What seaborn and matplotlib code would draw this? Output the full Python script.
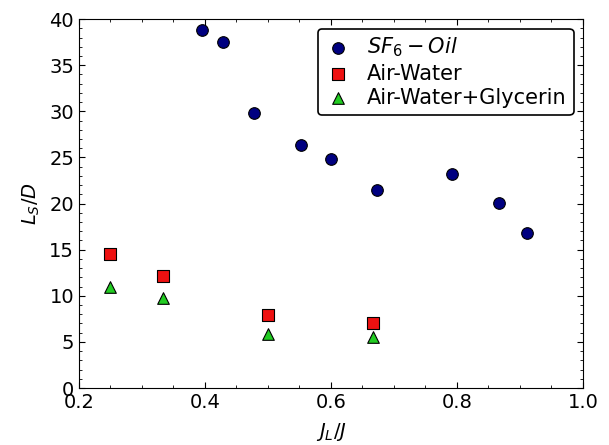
import numpy as np
import pandas as pd
import seaborn as sns
from matplotlib import pyplot as plt
from matplotlib.ticker import MultipleLocator, FormatStrFormatter

# SF6 - oil data
sf6_x = [0.396, 0.429, 0.478, 0.552, 0.600, 0.673, 0.792, 0.866, 0.911]
sf6_y = [38.8, 37.5, 29.8, 26.3, 24.8, 21.5, 23.2, 20.1, 16.8]
# air - water data
aw_x = [0.25, 0.333, 0.5, 0.667]
aw_y = [14.5, 12.2, 7.9, 7.0]
# air - water + glycerin data
awg_x = [0.25, 0.333, 0.5, 0.667]
awg_y = [11.0, 9.8, 5.9, 5.5]

labels = [r'$SF_6-Oil$', 'Air-Water', 'Air-Water+Glycerin']

fig = plt.figure(figsize=(6.09, 4.45), dpi=100)
ax = fig.add_axes([0.1297, 0.128, 0.8276, 0.829])

series = [(sf6_x, sf6_y, 'o', '#000080'),
          (aw_x, aw_y, 's', '#ee1111'),
          (awg_x, awg_y, '^', '#22cc22')]
for (xs, ys, mk, col), lab in zip(series, labels):
    df = pd.DataFrame({'x': xs, 'y': ys})
    sns.scatterplot(data=df, x='x', y='y', marker=mk, color=col, s=70,
                    edgecolor='black', linewidth=0.8, label=lab, ax=ax, zorder=3)

ax.set_xlim(0.2, 1.0)
ax.set_ylim(0, 40)
ax.xaxis.set_major_locator(MultipleLocator(0.2))
ax.xaxis.set_minor_locator(MultipleLocator(0.05))
ax.xaxis.set_major_formatter(FormatStrFormatter('%.1f'))
ax.yaxis.set_major_locator(MultipleLocator(5))
ax.yaxis.set_minor_locator(MultipleLocator(1))
ax.tick_params(which='both', direction='in', top=True, right=True, labelsize=14)
ax.tick_params(which='major', length=4)
ax.tick_params(which='minor', length=2.5)

ax.set_xlabel(r'$J_L/J$', fontsize=14, labelpad=6.5)
ax.set_ylabel(r'$L_S/D$', fontsize=14, labelpad=5)

leg = ax.legend(loc='upper right', fontsize=15, frameon=True, handletextpad=0.8,
                borderpad=0.35, labelspacing=0.2, handlelength=1.2,
                borderaxespad=0.45)
leg.get_frame().set_edgecolor('black')
leg.get_frame().set_linewidth(1.2)
leg.get_frame().set_alpha(1)

plt.savefig('out.png', dpi=100)
